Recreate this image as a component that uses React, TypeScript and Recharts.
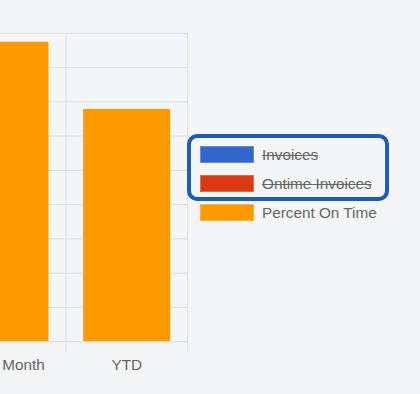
import React from "react";
import { BarChart, Bar, XAxis, YAxis, CartesianGrid, Legend } from "recharts";

const categories = ["Prior Month", "YTD"];
const percentOnTime = [87.5, 67.9];
const yTicks = [0, 10, 20, 30, 40, 50, 60, 70, 80, 90];
// category boundaries, as a fraction of the category axis
const boundaryTicks = [0, 0.5, 1];
const seriesNames = ["Invoices", "Ontime Invoices", "Percent On Time"];
const seriesColors = ["#3366cc", "#dc3912", "#ff9900"];
const seriesHidden = [true, true, false];

const data = categories.map((label, i) => ({ label, percent: percentOnTime[i] }));

const FONT = '"Liberation Sans", Arial, Helvetica, sans-serif';
const GRID = "#dcdfe2";
const TEXT = "#666666";
const BG = "#f3f5f7";

const EmptyTick = () => <g />;

const LegendItem = ({ i, style }: { i: number; style?: React.CSSProperties }) => (
  <div style={{ display: "flex", alignItems: "center", height: 17, ...style }}>
    <div
      style={{
        width: 54,
        height: 17,
        background: seriesColors[i],
        boxSizing: "border-box",
        border: "1px solid rgba(255,255,255,0.25)",
      }}
    />
    <span
      style={{
        marginLeft: 8,
        fontFamily: FONT,
        fontSize: 15.3,
        lineHeight: "17px",
        color: TEXT,
        whiteSpace: "nowrap",
        textDecoration: seriesHidden[i] ? "line-through" : "none",
      }}
    >
      {seriesNames[i]}
    </span>
  </div>
);

const renderLegend = () => (
  <div>
    <div
      style={{
        width: 202,
        boxSizing: "border-box",
        border: "4px solid #1f5cb4",
        borderRadius: 10,
        padding: "8px 0 5px 9.3px",
      }}
    >
      <LegendItem i={0} />
      <LegendItem i={1} style={{ marginTop: 12 }} />
    </div>
    <LegendItem i={2} style={{ marginTop: 3, marginLeft: 13.3 }} />
  </div>
);

export default function App() {
  return (
    <div style={{ position: "fixed", inset: 0, background: BG, overflow: "hidden" }}>
      <div style={{ position: "absolute", left: -100, top: 0 }}>
        <BarChart
          width={520}
          height={394}
          data={data}
          margin={{ top: 33.3, right: 232.3, bottom: 22.3, left: 4.3 }}
          barCategoryGap="14.1%"
        >
          <CartesianGrid xAxisId="b" stroke={GRID} vertical horizontal />
          <XAxis
            xAxisId="b"
            type="number"
            domain={[0, 1]}
            ticks={boundaryTicks}
            tick={EmptyTick}
            tickLine={{ stroke: GRID }}
            tickSize={10}
            height={1}
            stroke={GRID}
          />
          <XAxis
            xAxisId="c"
            dataKey="label"
            axisLine={false}
            tickLine={false}
            tickSize={6}
            tickMargin={10.5}
            height={29}
            interval={0}
            tick={{ fill: TEXT, fontSize: 15.3, fontFamily: FONT }}
          />
          <YAxis
            domain={[0, 90]}
            ticks={yTicks}
            width={40}
            axisLine={false}
            tickLine={false}
            tick={{ fill: TEXT, fontSize: 15, fontFamily: FONT }}
          />
          <Bar xAxisId="c" dataKey="percent" fill="#ff9900" isAnimationActive={false} />
          <Legend
            layout="vertical"
            align="center"
            verticalAlign="middle"
            wrapperStyle={{ left: 286.7, top: 134, width: "auto" }}
            content={renderLegend}
          />
        </BarChart>
      </div>
    </div>
  );
}
